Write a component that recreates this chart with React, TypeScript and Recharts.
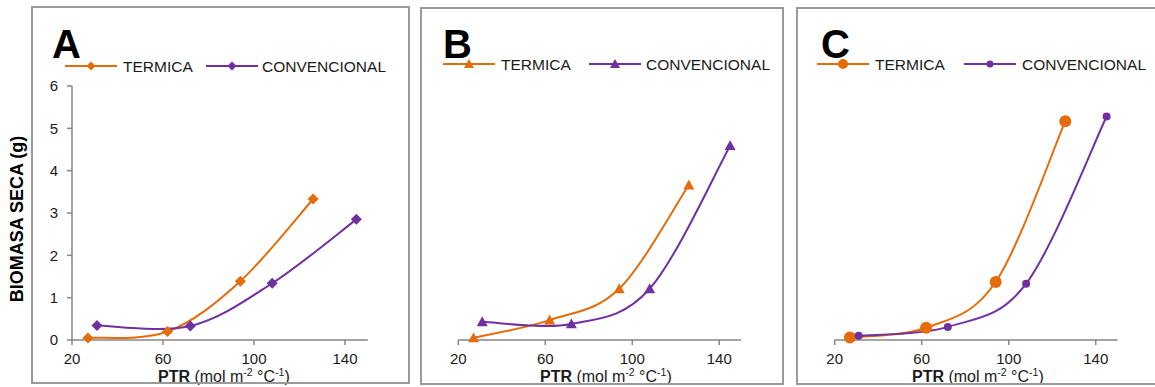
import { LineChart, Line, XAxis, YAxis } from "recharts";

// PTR values (mol m-2 °C-1) where each treatment was sampled
const ptrTermica = [27, 62, 94, 126];
const ptrConvencional = [31, 72, 108, 145];

// dry biomass (g)
const termicaA = [0.05, 0.2, 1.39, 3.33];
const convencionalA = [0.34, 0.33, 1.34, 2.85];
const termicaB = [0.05, 0.47, 1.21, 3.66];
const convencionalB = [0.43, 0.38, 1.21, 4.59];
const termicaC = [0.06, 0.29, 1.37, 5.17];
const convencionalC = [0.1, 0.31, 1.33, 5.28];

const xTicks = [20, 60, 100, 140];
const yTicks = [0, 1, 2, 3, 4, 5, 6];
const seriesNames = ["TERMICA", "CONVENCIONAL"];

const ORANGE = "#E46C0A";
const PURPLE = "#7030A0";
const AXIS = "#868686";
const FONT = '"Liberation Sans", Arial, Helvetica, sans-serif';

const toPoints = (xs: number[], ys: number[]) =>
  xs.map((x, i) => ({ x, y: ys[i] }));

// Excel-style smoothed line (cardinal spline, tension 0)
function excelSmooth(context: any) {
  let pts: [number, number][] = [];
  return {
    areaStart() {},
    areaEnd() {},
    lineStart() {
      pts = [];
    },
    point(x: number, y: number) {
      pts.push([+x, +y]);
    },
    lineEnd() {
      if (!pts.length) return;
      context.moveTo(pts[0][0], pts[0][1]);
      for (let i = 0; i < pts.length - 1; i++) {
        const p0 = pts[i - 1] || pts[i];
        const p1 = pts[i];
        const p2 = pts[i + 1];
        const p3 = pts[i + 2] || p2;
        context.bezierCurveTo(
          p1[0] + (p2[0] - p0[0]) / 6,
          p1[1] + (p2[1] - p0[1]) / 6,
          p2[0] - (p3[0] - p1[0]) / 6,
          p2[1] - (p3[1] - p1[1]) / 6,
          p2[0],
          p2[1]
        );
      }
    },
  };
}

type Kind = "diamond" | "triangle" | "circle";

function Marker({ cx, cy, kind, size, color }: { cx: number; cy: number; kind: Kind; size: number; color: string }) {
  const h = size / 2;
  if (kind === "circle") return <circle cx={cx} cy={cy} r={h} fill={color} />;
  if (kind === "diamond")
    return (
      <polygon
        points={`${cx},${cy - h} ${cx + h},${cy} ${cx},${cy + h} ${cx - h},${cy}`}
        fill={color}
      />
    );
  return (
    <polygon
      points={`${cx},${cy - h} ${cx + h},${cy + h * 0.8} ${cx - h},${cy + h * 0.8}`}
      fill={color}
    />
  );
}

interface PanelProps {
  letter: string;
  termica: number[];
  convencional: number[];
  kind: Kind;
  sizes: [number, number];
  legendSizes: [number, number];
  showY: boolean;
  left: number;
  width: number;
  plotLeft: number;
  plotRight: number;
}

const panels: PanelProps[] = [
  {
    letter: "A", termica: termicaA, convencional: convencionalA, kind: "diamond",
    sizes: [11, 11], legendSizes: [9, 9], showY: true,
    left: 32, width: 378, plotLeft: 72, plotRight: 367.75,
  },
  {
    letter: "B", termica: termicaB, convencional: convencionalB, kind: "triangle",
    sizes: [11, 11], legendSizes: [10, 10], showY: false,
    left: 420, width: 363, plotLeft: 458.3, plotRight: 741,
  },
  {
    letter: "C", termica: termicaC, convencional: convencionalC, kind: "circle",
    sizes: [12, 8], legendSizes: [10, 7], showY: false,
    left: 796, width: 359, plotLeft: 834.7, plotRight: 1117.5,
  },
];

const Y_AXIS_W = 30;
const X_AXIS_H = 30;
const PLOT_TOP = 86;
const PLOT_BOTTOM = 340;
const H = 387;

function Panel(p: PanelProps) {
  const colors = [ORANGE, PURPLE];
  const series = [
    toPoints(ptrTermica, p.termica),
    toPoints(ptrConvencional, p.convencional),
  ];
  const margin = {
    top: PLOT_TOP,
    bottom: H - PLOT_BOTTOM - X_AXIS_H,
    left: p.plotLeft - p.left - (p.showY ? Y_AXIS_W : 0),
    right: p.left + p.width - p.plotRight,
  };
  return (
    <div style={{ position: "absolute", left: p.left, top: 0 }}>
      <LineChart width={p.width} height={H} margin={margin} style={{ fontFamily: FONT }}>
        <XAxis
          type="number"
          dataKey="x"
          domain={[20, 150]}
          ticks={xTicks}
          allowDuplicatedCategory={false}
          height={X_AXIS_H}
          stroke={AXIS}
          strokeWidth={1.5}
          tickSize={5}
          tickMargin={8}
          tick={{ fontSize: 15, fill: "#1a1a1a", fontFamily: FONT }}
        />
        <YAxis
          type="number"
          dataKey="y"
          domain={[0, 6]}
          ticks={yTicks}
          hide={!p.showY}
          width={Y_AXIS_W}
          stroke={AXIS}
          strokeWidth={1.5}
          tickSize={5}
          tickMargin={9}
          tick={{ fontSize: 15, fill: "#1a1a1a", fontFamily: FONT }}
        />
        {series.map((data, si) => (
          <Line
            key={seriesNames[si]}
            data={data}
            dataKey="y"
            name={seriesNames[si]}
            type={excelSmooth as any}
            stroke={colors[si]}
            strokeWidth={2}
            isAnimationActive={false}
            dot={(d: any) => (
              <Marker
                key={`${si}-${d.index}`}
                cx={d.cx}
                cy={d.cy}
                kind={p.kind}
                size={p.sizes[si]}
                color={colors[si]}
              />
            )}
            activeDot={false}
          />
        ))}
      </LineChart>
    </div>
  );
}

// legend / label positions in page coordinates
const legendX = [
  [65, 123, 206, 262],
  [443, 501, 589, 646],
  [817, 875, 964, 1022],
];
const legendY = [66, 64, 64];
const letterX = [52, 443, 821];
const xLabelX = [158, 540, 912];

function Overlay() {
  const colors = [ORANGE, PURPLE];
  return (
    <svg
      width={1155}
      height={H}
      style={{ position: "absolute", left: 0, top: 0, fontFamily: FONT, pointerEvents: "none" }}
    >
      {panels.map((p, pi) => (
        <g key={p.letter}>
          <text x={letterX[pi]} y={58} fontSize={40} fontWeight="bold" fill="#000">
            {p.letter}
          </text>
          {[0, 1].map((si) => {
            const lx = legendX[pi][si * 2];
            const tx = legendX[pi][si * 2 + 1];
            const y = legendY[pi];
            return (
              <g key={si}>
                <line x1={lx} x2={lx + 52} y1={y} y2={y} stroke={colors[si]} strokeWidth={2} />
                <Marker cx={lx + 26} cy={y} kind={p.kind} size={p.legendSizes[si]} color={colors[si]} />
                <text x={tx} y={y + 5.7} fontSize={15.5} fill="#1a1a1a">
                  {seriesNames[si]}
                </text>
              </g>
            );
          })}
          <text x={xLabelX[pi]} y={382} fontSize={16} fill="#1a1a1a">
            <tspan fontWeight="bold">PTR</tspan>
            <tspan> (mol m</tspan>
            <tspan dy={-6} fontSize={10.5}>-2</tspan>
            <tspan dy={6}> °C</tspan>
            <tspan dy={-6} fontSize={10.5}>-1</tspan>
            <tspan dy={6}>)</tspan>
          </text>
        </g>
      ))}
      <text
        transform="translate(23,219) rotate(-90)"
        textAnchor="middle"
        fontSize={18}
        fontWeight="bold"
        fill="#000"
      >
        BIOMASA SECA (g)
      </text>
    </svg>
  );
}

const frames = [
  { left: 31, top: 6, width: 379, height: 378 },
  { left: 420, top: 7, width: 364, height: 378 },
  { left: 796, top: 7, width: 380, height: 378 },
];

export default function App() {
  return (
    <div
      style={{
        position: "absolute",
        left: 0,
        top: 0,
        width: 1155,
        height: H,
        overflow: "hidden",
        background: "#fff",
      }}
    >
      {panels.map((p) => (
        <Panel key={p.letter} {...p} />
      ))}
      <Overlay />
      {frames.map((f, i) => (
        <div
          key={i}
          style={{
            position: "absolute",
            ...f,
            boxSizing: "border-box",
            border: "2px solid #9a9a9a",
            pointerEvents: "none",
          }}
        />
      ))}
    </div>
  );
}
